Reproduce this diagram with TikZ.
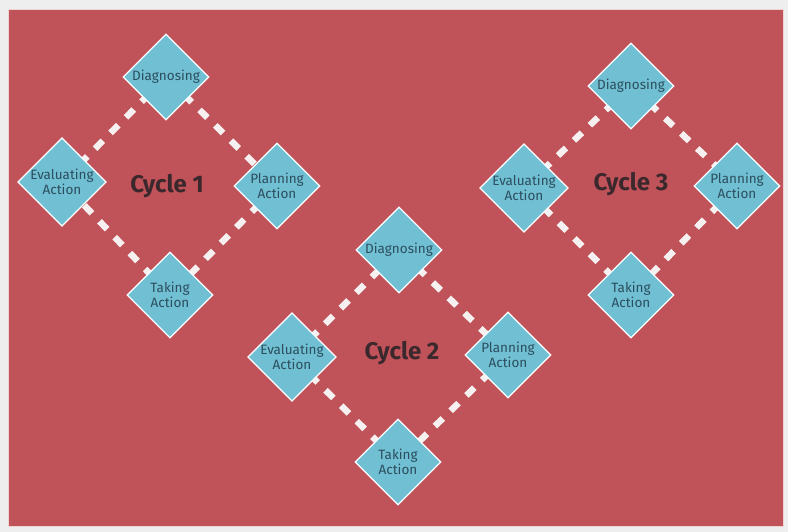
\documentclass[tikz,border=0pt]{standalone}
\usepackage{fontspec}
\setmainfont{Fira Sans}
\usetikzlibrary{shapes.geometric}
\pgfdeclarelayer{background}
\pgfsetlayers{background,main}
\definecolor{bggray}{RGB}{238,238,238}
\definecolor{panelred}{RGB}{192,82,89}
\definecolor{diamondblue}{RGB}{112,191,211}
\definecolor{labeltext}{RGB}{44,78,94}
\definecolor{cycletext}{RGB}{58,40,44}
\definecolor{dashwhite}{RGB}{246,240,240}
\tikzset{
  stage/.style={diamond, draw=white, line width=1.2pt, fill=diamondblue,
    minimum width=86pt, minimum height=86pt, inner sep=0pt, aspect=1,
    text=labeltext, font=\fontsize{13.5}{14.5}\selectfont, align=center},
  link/.style={draw=dashwhite, line width=6.5pt, dash pattern=on 11pt off 11pt, dash phase=-3pt},
  cyclelabel/.style={text=cycletext, font=\fontsize{24}{28}\selectfont\bfseries}
}
\begin{document}
\begin{tikzpicture}[x=1pt,y=-1pt]
\useasboundingbox (0,0) rectangle (788,532);

% Cycle 1
\node[stage] (d1) at (166,77) {Diagnosing};
\node[stage] (e1) at (62,182) {Evaluating\\Action};
\node[stage] (p1) at (277,186) {Planning\\Action};
\node[stage] (t1) at (170,295) {Taking\\Action};
\node[cyclelabel] (c1) at (167,186) {Cycle 1};

% Cycle 2
\node[stage] (d2) at (399,250) {Diagnosing};
\node[stage] (e2) at (292,357) {Evaluating\\Action};
\node[stage] (p2) at (508,355) {Planning\\Action};
\node[stage] (t2) at (398,462) {Taking\\Action};
\node[cyclelabel] (c2) at (402,353) {Cycle 2};

% Cycle 3
\node[stage] (d3) at (631,86) {Diagnosing};
\node[stage] (e3) at (524,188) {Evaluating\\Action};
\node[stage] (p3) at (737,186) {Planning\\Action};
\node[stage] (t3) at (631,295) {Taking\\Action};
\node[cyclelabel] (c3) at (631,184) {Cycle 3};

\begin{pgfonlayer}{background}
\fill[bggray] (0,0) rectangle (788,532);
\fill[panelred] (8,9) rectangle (783,526);
\draw[white!75!panelred, line width=0.8pt] (8,9) rectangle (783,526);
\foreach \n in {1,2,3} {
  \draw[link] (d\n.center) -- (p\n.center);
  \draw[link] (p\n.center) -- (t\n.center);
  \draw[link] (t\n.center) -- (e\n.center);
  \draw[link] (e\n.center) -- (d\n.center);
}
\end{pgfonlayer}
\end{tikzpicture}
\end{document}
